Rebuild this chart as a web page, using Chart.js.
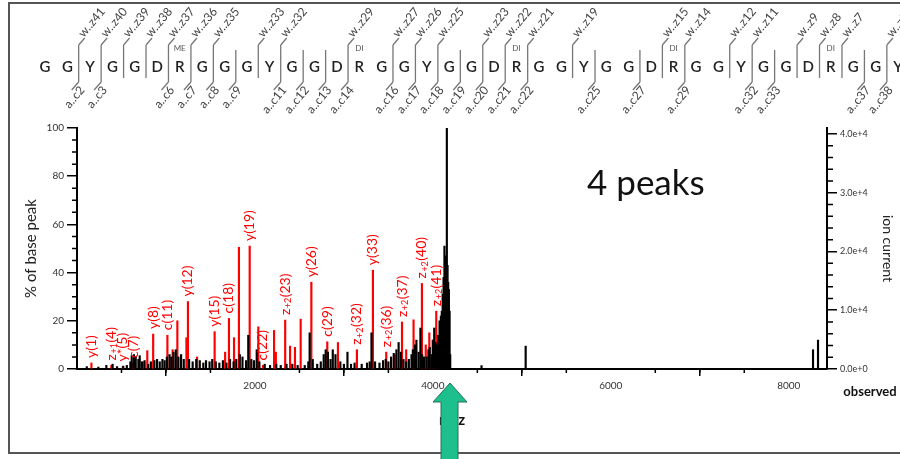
<!DOCTYPE html>
<html>
<head>
<meta charset="utf-8">
<script src="https://cdn.jsdelivr.net/npm/chart.js@4/dist/chart.umd.min.js"></script>
<style>
  html, body { margin: 0; background: #fff; }
  #wrap { width: 900px; height: 459px; position: relative; }
</style>
</head>
<body>
<div id="wrap"><canvas id="spectrum"></canvas></div>
<script>
// observed spectrum (black sticks), m/z and % of base peak
const blackMz = [110, 240, 330, 400, 450, 520, 560, 600, 615, 640, 660, 690, 705, 730, 760, 800, 830, 870, 900, 930,
  960, 985, 1010, 1040, 1060, 1085, 1110, 1140, 1170, 1200, 1260, 1300, 1340, 1380, 1420, 1450, 1490, 1520, 1560, 1600,
  1640, 1680, 1720, 1760, 1790, 1830, 1860, 1900, 1925, 1960, 1990, 2020, 2050, 2110, 2170, 2240, 2290, 2355, 2420, 2480,
  2560, 2600, 2615, 2650, 2700, 2740, 2773, 2795, 2820, 2850, 2875, 2905, 2960, 3000, 3040, 3080, 3120, 3200, 3260, 3290,
  3310, 3350, 3400, 3440, 3470, 3500, 3530, 3560, 3590, 3615, 3640, 3670, 3700, 3730, 3760, 3775, 3800, 3815, 3840, 3860,
  3880, 3900, 3930, 3950, 3965, 3985, 4000, 4015, 4030, 4045, 4060, 4075, 4090, 4100, 4110, 4120, 4130, 4140, 4150, 4157,
  4165, 4172, 4180, 4188, 4195, 4547, 5043, 8273, 8329];
const blackPct = [1, 0.8, 1.5, 2, 1, 1.2, 1.5, 3, 5.5, 6, 5, 4, 5.5, 3, 3.5, 2, 3, 3.5, 4, 3,
  4, 3.5, 5, 6, 5, 7, 8, 5, 6, 4, 4, 3, 4, 3.5, 2.5, 3.5, 3, 4, 3, 2.5,
  3.5, 2.5, 4, 3, 4, 6, 5, 3.5, 14, 4, 3.5, 8, 3, 2, 1.5, 2, 1.5, 2, 2, 1.5,
  1.5, 3, 15, 4, 2, 3, 6, 8, 7, 4, 8, 6, 3, 2, 7, 2, 2.5, 2, 2.5, 3,
  15, 3, 2.5, 3.5, 4, 3, 5, 6.5, 8, 11, 7, 4, 3, 4, 6, 8, 10, 12, 7, 17,
  6, 5, 5, 8, 9, 6, 12, 17, 11, 10, 14, 20, 22, 24, 31, 38, 51, 47, 43, 100,
  43, 36, 33, 24, 6, 1.4, 9.5, 8, 12];

// matched fragment peaks (red sticks)
const redMz = [162, 386, 515, 630, 740, 790, 856, 1016, 1075, 1128, 1230, 1247, 1350, 1547, 1665, 1708, 1765, 1820, 1941, 2038,
  2090, 2215, 2235, 2340, 2395, 2450, 2514, 2634, 2813, 2933, 3146, 3326, 3476, 3530, 3570, 3653, 3700, 3783, 3877, 3920,
  3960, 4000, 4038];
const redPct = [2.5, 1.5, 1, 2.5, 3, 7.6, 14.5, 14, 8, 20, 13, 28, 5, 15.5, 7, 21, 13, 50.5, 51, 17.5,
  1.5, 16, 7, 20.3, 9.5, 9, 20.7, 36, 11.3, 11, 8, 41, 7, 4, 6, 19.5, 8, 20.4, 35.5, 10,
  15, 12, 24];
const redLabels = ['y(1)', 'z+1(4)', 'y*(5)', 'c(7)', '', '', 'y(8)', 'c(11)', '', '', '', 'y(12)', '', 'y(15)', '', 'c(18)', '', '', 'y(19)', '',
  'c(22)', '', '', 'z+2(23)', '', '', '', 'y(26)', 'c(29)', '', 'z+2(32)', 'y(33)', 'z+2(36)', '', '', 'z+2(37)', '', '', 'z+2(40)', '',
  '', '', 'z+2(41)'];

// tick labels
const xTicks = [2000, 4000, 6000, 8000];
const leftTicks = [0, 20, 40, 60, 80, 100];
const rightTicks = [0, 10000, 20000, 30000, 40000];

// sequence coverage map
const residues = 'GGYGGDRGGGYGGDRGGYGGDRGGYGGDRGGYGGDRGGYGGDR'.split('');
const cSites = [2, 3, 6, 7, 8, 9, 11, 12, 13, 14, 16, 17, 18, 19, 20, 21, 22, 25, 27, 29, 32, 33, 37, 38];
const zSites = [41, 40, 39, 38, 37, 36, 35, 33, 32, 29, 27, 26, 25, 23, 22, 21, 19, 15, 14, 12, 11, 9, 8, 7, 5];
const modIndex = [6, 14, 21, 28, 35];
const modText = ['ME', 'DI', 'DI', 'DI', 'DI'];

const FONT = 'Lato, "Open Sans", sans-serif';

function drawLabel(ctx, t) {
  // "z+2(23)" -> z with subscript +2
  const m = t.match(/^z(\+\d)(.*)$/);
  ctx.font = '14px ' + FONT;
  if (!m) { ctx.fillText(t, 0, 0); return; }
  ctx.fillText('z', 0, 0);
  let w = ctx.measureText('z').width + 0.5;
  ctx.font = '9px ' + FONT;
  ctx.fillText(m[1], w, 3);
  w += ctx.measureText(m[1]).width + 0.5;
  ctx.font = '14px ' + FONT;
  ctx.fillText(m[2], w, 0);
}

const decorations = {
  id: 'decorations',
  afterDraw(chart) {
    const ctx = chart.ctx;
    const xs = chart.scales.x, ys = chart.scales.y, ys2 = chart.scales.y2;
    ctx.save();

    // minor ticks
    ctx.strokeStyle = '#000';
    ctx.lineWidth = 1.5;
    ctx.beginPath();
    for (let v = 500; v < xs.max; v += 500) {
      if (v % 2000 === 0) continue;
      const px = xs.getPixelForValue(v);
      ctx.moveTo(px, xs.top); ctx.lineTo(px, xs.top + 4);
    }
    for (let v = 5; v < 100; v += 5) {
      if (v % 20 === 0) continue;
      const py = ys.getPixelForValue(v);
      ctx.moveTo(ys.right, py); ctx.lineTo(ys.right - 5, py);
    }
    for (let v = 2000; v < 41000; v += 2000) {
      if (v % 10000 === 0) continue;
      const py = ys2.getPixelForValue(v);
      ctx.moveTo(ys2.left, py); ctx.lineTo(ys2.left + 6, py);
    }
    ctx.stroke();

    // fragment labels above the red peaks
    const meta = chart.getDatasetMeta(1);
    ctx.fillStyle = '#f00';
    ctx.textAlign = 'left';
    ctx.textBaseline = 'middle';
    redLabels.forEach((t, i) => {
      if (!t) return;
      const el = meta.data[i];
      ctx.save();
      ctx.translate(el.x, el.y - 5);
      ctx.rotate(-Math.PI / 2);
      drawLabel(ctx, t);
      ctx.restore();
    });

    // sequence map
    const sx = i => 45 + 22.45 * i;
    ctx.fillStyle = '#222';
    ctx.font = '600 15px ' + FONT;
    ctx.textAlign = 'center';
    ctx.textBaseline = 'middle';
    residues.forEach((r, i) => ctx.fillText(r, sx(i), 67));
    ctx.fillStyle = '#555';
    ctx.font = '8px ' + FONT;
    modIndex.forEach((i, k) => ctx.fillText(modText[k], sx(i), 48));

    const ang = -50 * Math.PI / 180;
    ctx.strokeStyle = '#777';
    ctx.lineWidth = 1.3;
    for (let b = 1; b < residues.length; b++) {
      const hasC = cSites.includes(b);
      const hasZ = zSites.includes(residues.length - b);
      if (!hasC && !hasZ) continue;
      const bx = (sx(b - 1) + sx(b)) / 2;
      ctx.beginPath();
      ctx.moveTo(bx, hasZ ? 45 : 50);
      ctx.lineTo(bx, hasC ? 82 : 78);
      if (hasZ) { ctx.moveTo(bx, 45); ctx.lineTo(bx + 6, 38); }
      if (hasC) { ctx.moveTo(bx, 82); ctx.lineTo(bx - 7, 90); }
      ctx.stroke();
      ctx.fillStyle = '#444';
      ctx.font = '12px ' + FONT;
      if (hasZ) {
        ctx.save();
        ctx.translate(bx + 5, 38);
        ctx.rotate(ang);
        ctx.textAlign = 'left';
        ctx.textBaseline = 'alphabetic';
        ctx.fillText('w..z' + (residues.length - b), 0, 0);
        ctx.restore();
      }
      if (hasC) {
        ctx.save();
        ctx.translate(bx - 1, 84);
        ctx.rotate(ang);
        ctx.textAlign = 'right';
        ctx.textBaseline = 'top';
        ctx.fillText('a..c' + b, 0, 0);
        ctx.restore();
      }
    }

    // frame
    ctx.strokeStyle = '#555';
    ctx.lineWidth = 2;
    ctx.beginPath();
    ctx.moveTo(900, 3); ctx.lineTo(9, 3); ctx.lineTo(9, 453); ctx.lineTo(900, 453);
    ctx.stroke();

    // texts
    ctx.fillStyle = '#111';
    ctx.font = '35px ' + FONT;
    ctx.textAlign = 'left';
    ctx.textBaseline = 'alphabetic';
    ctx.fillText('4 peaks', 587, 195);
    ctx.font = 'bold 13px ' + FONT;
    ctx.textAlign = 'center';
    ctx.textBaseline = 'middle';
    ctx.fillText('observed', 870, 392);
    ctx.font = 'bold 15px ' + FONT;
    ctx.fillText('m/z', 452, 420);

    // arrow
    ctx.fillStyle = '#1dbf8c';
    ctx.strokeStyle = '#2a6f58';
    ctx.lineWidth = 1;
    ctx.beginPath();
    ctx.moveTo(450, 383); ctx.lineTo(467, 402); ctx.lineTo(458, 402); ctx.lineTo(458, 460);
    ctx.lineTo(441, 460); ctx.lineTo(441, 402); ctx.lineTo(433, 402); ctx.closePath();
    ctx.fill(); ctx.stroke();

    ctx.restore();
  }
};

const tickFont = { family: FONT, size: 10 };

new Chart(document.getElementById('spectrum'), {
  type: 'bar',
  data: {
    datasets: [
      {
        label: 'observed',
        data: blackMz.map((m, i) => ({ x: m, y: blackPct[i] })),
        backgroundColor: '#000',
        barThickness: 1.5,
        order: 0
      },
      {
        label: 'matched',
        data: redMz.map((m, i) => ({ x: m, y: redPct[i] })),
        backgroundColor: '#f00',
        barThickness: 1.5,
        order: 1
      }
    ]
  },
  options: {
    responsive: true,
    maintainAspectRatio: false,
    animation: false,
    layout: { padding: { left: 18, top: 128, right: 0, bottom: 0 } },
    datasets: { bar: { grouped: false } },
    plugins: { legend: { display: false }, tooltip: { enabled: false } },
    scales: {
      x: {
        type: 'linear',
        min: 0,
        max: 8430,
        offset: false,
        afterFit: s => { s.height = 90; },
        afterBuildTicks: s => { s.ticks = xTicks.map(v => ({ value: v })); },
        grid: { drawOnChartArea: false, tickLength: 7, color: '#000', lineWidth: 1.5 },
        border: { color: '#000', width: 2 },
        ticks: { font: tickFont, color: '#333', padding: 4, maxRotation: 0, callback: v => String(v) }
      },
      y: {
        position: 'left',
        min: 0,
        max: 100,
        afterFit: s => { s.width = 59; },
        afterBuildTicks: s => { s.ticks = leftTicks.map(v => ({ value: v })); },
        grid: { drawOnChartArea: false, tickLength: 10, color: '#000', lineWidth: 1.5 },
        border: { color: '#000', width: 2 },
        ticks: { font: tickFont, color: '#333', padding: 3 },
        title: { display: true, text: '% of base peak', color: '#222', font: { family: FONT, size: 15 }, padding: { top: 4, bottom: 0 } }
      },
      y2: {
        position: 'right',
        display: true,
        min: 0,
        max: 41000,
        afterFit: s => { s.width = 73; },
        afterBuildTicks: s => { s.ticks = rightTicks.map(v => ({ value: v })); },
        grid: { drawOnChartArea: false, tickLength: 10, color: '#000', lineWidth: 1.5 },
        border: { color: '#000', width: 2 },
        ticks: {
          font: { family: FONT, size: 9 },
          color: '#333',
          padding: 3,
          callback: v => v === 0 ? '0.0e+0' : (v / 10000).toFixed(1) + 'e+4'
        },
        title: { display: true, text: 'ion current', color: '#222', font: { family: FONT, size: 14 }, padding: { top: 4, bottom: 0 } }
      }
    }
  },
  plugins: [decorations]
});
</script>
</body>
</html>
